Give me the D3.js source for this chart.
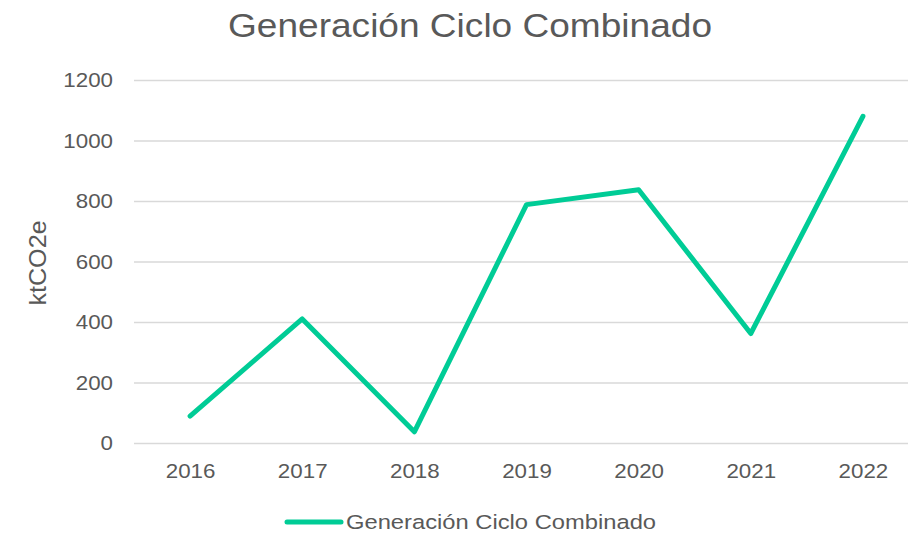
<!DOCTYPE html>
<html>
<head>
<meta charset="utf-8">
<script src="https://cdn.jsdelivr.net/npm/d3@7"></script>
<style>
  body { margin: 0; background: #fff; }
  text { font-family: "Liberation Sans", Arial, sans-serif; fill: #595959; }
</style>
</head>
<body>
<svg id="chart"></svg>
<script>
var width = 908;
var height = 533;

var years = ["2016", "2017", "2018", "2019", "2020", "2021", "2022"];
var values = [89, 410, 37, 788, 837, 362, 1080];
var yTicks = [0, 200, 400, 600, 800, 1000, 1200];

var title = "Generación Ciclo Combinado";
var seriesName = "Generación Ciclo Combinado";
var lineColor = "#00cc96";

var svg = d3.select("#chart")
    .attr("width", width)
    .attr("height", height);

var xScale = d3.scalePoint()
  .domain(years)
  .range([134, 919])
  .padding(0.5);

var yScale = d3.scaleLinear()
  .domain([0, 1200])
  .range([443, 80]);

// gridlines
svg.append("g")
  .selectAll("line")
  .data(yTicks)
  .enter()
  .append("line")
    .attr("x1", 134)
    .attr("x2", width)
    .attr("y1", d => yScale(d) + 0.5)
    .attr("y2", d => yScale(d) + 0.5)
    .attr("stroke", "#d9d9d9")
    .attr("stroke-width", 1.3);

// the reference text is a bit wide, so squeeze in a small sideways stretch
function styleTicks(sel, sx) {
  sel.selectAll("text")
    .attr("font-size", 20.5)
    .attr("fill", "#595959")
    .attr("transform", "scale(" + sx + ",1)")
    .style("font-family", "Liberation Sans, Arial, sans-serif");
}

// y axis labels
var yAxis = d3.axisLeft(yScale).tickValues(yTicks).tickFormat(d3.format("d")).tickSize(0).tickPadding(0);
svg.append("g")
    .attr("transform", "translate(113,0)")
    .call(yAxis)
    .call(g => g.select(".domain").remove())
    .call(g => styleTicks(g, 1.09));

// x axis labels
var xAxis = d3.axisBottom(xScale).tickSize(0).tickPadding(0);
svg.append("g")
    .attr("transform", "translate(0,463)")
    .call(xAxis)
    .call(g => g.select(".domain").remove())
    .call(g => styleTicks(g, 1.09));

// y axis title
svg.append("text")
    .attr("transform", "translate(46,263) rotate(-90) scale(1.07,1)")
    .attr("text-anchor", "middle")
    .attr("font-size", 23.5)
    .text("ktCO2e");

// title
svg.append("text")
    .attr("transform", "translate(470,37) scale(1.13,1)")
    .attr("text-anchor", "middle")
    .attr("font-size", 32.8)
    .text(title);

// line
var line = d3.line()
  .x((d, i) => xScale(years[i]))
  .y(d => yScale(d));

svg.append("path")
    .datum(values)
    .attr("d", line)
    .attr("fill", "none")
    .attr("stroke", lineColor)
    .attr("stroke-width", 5)
    .attr("stroke-linejoin", "round")
    .attr("stroke-linecap", "round");

// legend
svg.append("line")
    .attr("x1", 287)
    .attr("x2", 341)
    .attr("y1", 522)
    .attr("y2", 522)
    .attr("stroke", lineColor)
    .attr("stroke-width", 5)
    .attr("stroke-linecap", "round");

svg.append("text")
    .attr("transform", "translate(346,528.5) scale(1.17,1)")
    .attr("font-size", 20.3)
    .text(seriesName);
</script>
</body>
</html>
